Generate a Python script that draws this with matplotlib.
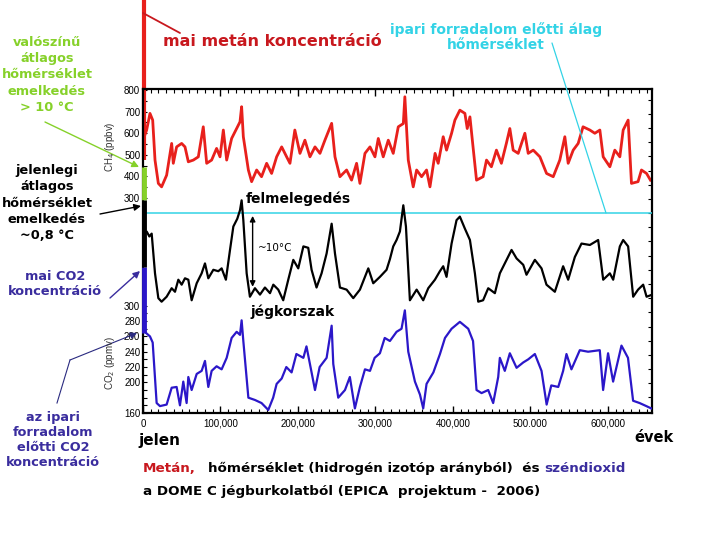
import numpy as np
import matplotlib
matplotlib.use("Agg")
import matplotlib.pyplot as plt
from matplotlib.patches import FancyArrowPatch

# EPICA Dome C records (ages in thousand years before present)
ch4_kyr = np.array([0, 4.7, 9, 12.5, 15.5, 19.8, 24, 30.5, 37, 39.1,
                    43.4, 49.9, 54.2, 58.5, 65, 71.4, 77.8, 82.2, 88.6, 95,
                    99.4, 103.7, 108, 114.4, 121, 125.2, 127.3, 129.5, 136, 140.2,
                    146.7, 153, 159.6, 166, 172.5, 179, 185.4, 189.7, 196, 202.6,
                    209, 215.5, 222, 228.4, 234.8, 243.5, 247.8, 254.2, 262.8, 269.2,
                    275.7, 280, 286.5, 293, 299.4, 303.7, 310.1, 316.6, 323, 329.5,
                    336, 338, 342.4, 348.8, 353.2, 359.6, 366, 370.4, 377, 381,
                    387.5, 391.8, 398.3, 402.6, 409, 415.5, 418.5, 422, 426, 430.5,
                    439, 443.4, 449.7, 456.2, 462.6, 469, 473.5, 477.8, 484.3, 492.9,
                    497.2, 503.7, 512.3, 520.9, 529.5, 538, 544.5, 548.8, 555.3, 561.7,
                    568, 576.8, 583.2, 589.7, 594, 602.6, 609, 615.5, 619.8, 626.2,
                    630.5, 639, 643.4, 650, 655])
ch4_ppbv = np.array([568, 615, 692, 661, 476, 368, 352, 406, 553, 461,
                     537, 553, 537, 468, 476, 491, 630, 461, 476, 530,
                     491, 615, 476, 576, 623, 653, 723, 584, 430, 376,
                     430, 399, 461, 414, 491, 537, 491, 461, 615, 507,
                     568, 491, 537, 507, 568, 646, 491, 399, 430, 383,
                     461, 368, 507, 537, 491, 576, 491, 568, 507, 630,
                     645, 769, 476, 352, 430, 399, 430, 352, 507, 461,
                     584, 522, 600, 661, 707, 692, 622, 676, 537, 383,
                     399, 476, 445, 522, 461, 553, 622, 522, 507, 600,
                     507, 522, 491, 414, 399, 476, 584, 461, 522, 553,
                     630, 615, 600, 615, 491, 445, 522, 491, 615, 661,
                     368, 376, 430, 414, 383])

temp_kyr = np.array([0, 1.3, 4.7, 8.2, 11.2, 15.5, 19.8, 24, 30.5, 37,
                     41.3, 45.6, 49.9, 54.2, 58.5, 62.8, 69.3, 75.7, 80, 84.3,
                     90.8, 97.2, 101.5, 107, 112.3, 116.6, 121.7, 125.2, 127.3, 129.5,
                     133.8, 138, 144.5, 151, 157.4, 163.9, 168.2, 174.6, 181, 187.5,
                     194, 200.4, 207, 213.3, 217.6, 224, 230.5, 237, 243.5, 247.8,
                     254.2, 262.8, 271.4, 280, 290.8, 297.2, 305.8, 314.4, 318.7, 323,
                     327.3, 331.6, 336, 339.4, 344.5, 353.2, 361.7, 368.2, 376.8, 383.2,
                     387.5, 391.8, 398.3, 404.7, 409, 415.5, 422, 428.4, 432.7, 439,
                     445.6, 454.2, 460.6, 467, 475.7, 482.2, 490.8, 495, 505.8, 514.4,
                     520.8, 531.6, 542.3, 548.8, 557.4, 566, 576.8, 587.5, 594, 602.6,
                     606.9, 615.5, 619.8, 626.2, 632.7, 639, 645.6, 650, 655])
temp_dc = np.array([-3.0, -2.9, -2.6, -3.3, -2.9, -8.5, -12.0, -12.5, -11.8, -10.6,
                    -11.1, -9.4, -10.1, -9.2, -9.4, -12.3, -9.9, -8.5, -7.1, -9.2,
                    -8.0, -8.2, -7.8, -9.4, -5.2, -1.9, -0.8, 0.4, 1.8, -1.0,
                    -8.5, -11.8, -10.6, -11.5, -10.5, -11.3, -10.1, -10.8, -12.3, -9.4,
                    -6.6, -7.8, -4.7, -4.9, -8.0, -10.5, -8.5, -5.7, -1.5, -5.7,
                    -10.5, -10.8, -12.0, -10.8, -7.8, -9.9, -9.0, -8.0, -6.5, -4.7,
                    -3.8, -2.6, 1.1, -1.9, -12.3, -10.8, -12.3, -10.6, -9.4, -8.2,
                    -7.5, -9.0, -4.3, -1.0, -0.5, -2.2, -3.8, -8.5, -12.5, -12.3,
                    -10.6, -11.3, -8.5, -7.1, -5.2, -6.4, -7.3, -8.7, -6.6, -7.8,
                    -10.1, -11.1, -7.5, -9.4, -6.2, -4.3, -4.5, -3.8, -9.4, -8.5,
                    -9.4, -4.7, -3.8, -4.7, -11.8, -10.8, -10.1, -11.8, -11.6])

co2_kyr = np.array([0, 9, 12.5, 17.6, 21.9, 30.5, 37, 43.4, 47.7, 52,
                    56.3, 58.5, 62.8, 69.3, 75.7, 80, 84.3, 88.6, 95, 101.5,
                    108, 114.4, 120.9, 125.2, 127.3, 129.5, 136, 144.5, 153, 161.7,
                    168, 172.5, 179, 185, 191.8, 198, 207, 211, 217.6, 222,
                    228, 237, 243.5, 245.6, 252, 260.7, 267, 273.5, 280, 286.5,
                    293, 299, 305.8, 312, 318.7, 327.3, 333.7, 338, 342.4, 351,
                    357.5, 361.7, 366, 374.8, 383.3, 389.8, 398.3, 409, 419.8, 426,
                    430.5, 437, 445.6, 452, 458.5, 460.6, 467, 473.5, 482.2, 490.8,
                    497.2, 505.8, 514.4, 521, 527, 536, 542.3, 546.6, 553, 563.8,
                    574.5, 589.6, 593.9, 600.3, 606.8, 617.6, 626, 632.6, 641, 649.7, 656])
co2_ppmv = np.array([268, 260, 252, 173, 169, 171, 193, 194, 170, 201,
                     173, 207, 190, 211, 215, 228, 194, 215, 221, 217,
                     232, 258, 266, 262, 281, 254, 180, 177, 173, 164,
                     180, 198, 205, 220, 213, 237, 232, 247, 213, 190,
                     220, 232, 274, 224, 180, 190, 207, 166, 194, 217,
                     215, 232, 238, 258, 254, 266, 270, 294, 240, 201,
                     184, 166, 198, 213, 237, 258, 270, 279, 270, 254,
                     190, 186, 190, 173, 207, 232, 215, 238, 219, 226,
                     230, 237, 215, 171, 196, 194, 215, 237, 217, 242,
                     240, 242, 190, 238, 201, 248, 232, 176, 173, 169, 166])

# present-day bars drawn at the left edge
ch4_bar = [476, 1780]
warm_likely = [1.8, 6.5]
warm_now = [-7.6, 1.8]
co2_bar = [265, 351]

x_ticks = [0, 100000, 200000, 300000, 400000, 500000, 600000]
x_labels = ["0", "100,000", "200,000", "300,000", "400,000", "500.000", "600,000"]
ch4_ticks = [300, 400, 500, 600, 700, 800]
co2_ticks = [160, 200, 220, 240, 260, 280, 300]

RED = "#e8201c"
BLUE = "#2b17c9"
CYAN = "#33d3e6"
GREEN = "#86d12a"
NAVY = "#3a2d9e"
DARKRED = "#c8181e"

W, H = 720, 540
def fp(x, y):
    return x / W, 1 - y / H

fig = plt.figure(figsize=(7.2, 5.4), dpi=100)
rect = [143 / W, 1 - 413 / H, 509 / W, 324 / H]
ax = fig.add_axes(rect)
ax_co2 = fig.add_axes(rect)
ax_t = fig.add_axes(rect)
for a in (ax_co2, ax_t):
    a.patch.set_visible(False)
    for s in a.spines.values():
        s.set_visible(False)
    a.xaxis.set_visible(False)
    a.set_xlim(0, 657000)

tickfont = "Liberation Sans"

# methane axis carries the frame and the time axis
ax.set_xlim(0, 657000)
ax.set_ylim(-695, 805)
for s in ax.spines.values():
    s.set_linewidth(1.6)
ax.set_xticks(x_ticks)
ax.set_xticklabels(x_labels, fontfamily=tickfont, fontsize=7)
ax.set_xticks(np.arange(0, 657000, 10000), minor=True)
ax.set_yticks(ch4_ticks)
ax.set_yticklabels([str(v) for v in ch4_ticks], fontfamily=tickfont, fontsize=7)
ax.set_yticks(np.arange(350, 800, 100), minor=True)
ax.tick_params(axis="x", which="major", direction="in", length=5, width=1, top=True, pad=4)
ax.tick_params(axis="x", which="minor", direction="in", length=3, width=0.8, top=True)
ax.tick_params(axis="y", which="both", direction="in", length=3, width=0.8, pad=2)
ax.plot(ch4_kyr * 1000, ch4_ppbv, color=RED, lw=2.0)
ax.plot([1500, 1500], ch4_bar, color=RED, lw=3, clip_on=False, solid_capstyle="butt")

ax_co2.set_ylim(160, 583)
ax_co2.set_yticks(co2_ticks)
ax_co2.set_yticklabels([str(v) for v in co2_ticks], fontfamily=tickfont, fontsize=7)
ax_co2.set_yticks(np.arange(170, 300, 10), minor=True)
ax_co2.tick_params(axis="y", which="both", direction="in", length=3, width=0.8, pad=2)
ax_co2.plot(co2_kyr * 1000, co2_ppmv, color=BLUE, lw=1.6)
ax_co2.plot([1500, 1500], co2_bar, color=BLUE, lw=3.5, clip_on=False, solid_capstyle="butt")

ax_t.set_ylim(-28.2, 17.5)
ax_t.yaxis.tick_right()
ax_t.set_yticks(np.arange(-26, 17, 2))
ax_t.set_yticklabels([])
ax_t.tick_params(axis="y", direction="in", length=3, width=0.8)
ax_t.axhline(0, color=CYAN, lw=1.1)
ax_t.plot(temp_kyr * 1000, temp_dc, color="black", lw=1.6)
ax_t.plot([1500, 1500], warm_likely, color=GREEN, lw=3.5, clip_on=False, solid_capstyle="butt")
ax_t.plot([1500, 1500], warm_now, color="black", lw=3.5, clip_on=False, solid_capstyle="butt")
ax_t.annotate("", xy=(141500, -10.4), xytext=(141500, -0.4),
              arrowprops=dict(arrowstyle="<|-|>", color="black", lw=1, mutation_scale=8,
                              shrinkA=0, shrinkB=0))
ax_t.text(148000, -4.9, "~10°C", fontsize=7.5, va="center", ha="left")

fig.text(*fp(110, 147), "CH$_4$ (ppbv)", rotation=90, ha="center", va="center",
         fontsize=7, color="#333333", fontfamily=tickfont)
fig.text(*fp(110, 363), "CO$_2$ (ppmv)", rotation=90, ha="center", va="center",
         fontsize=7, color="#333333", fontfamily=tickfont)

side = dict(fontsize=9.3, fontweight="bold", fontfamily="DejaVu Sans")
big = dict(fontsize=10, fontweight="bold", fontfamily="DejaVu Sans")
cap = dict(fontsize=9.7, fontweight="bold", fontfamily="DejaVu Sans")

fig.text(*fp(47, 75), "valószínű\nátlagos\nhőmérséklet\nemelkedés\n> 10 °C", color=GREEN,
         ha="center", va="center", linespacing=1.33, **side)
fig.text(*fp(47, 203), "jelenlegi\nátlagos\nhőmérséklet\nemelkedés\n~0,8 °C", color="black",
         ha="center", va="center", linespacing=1.33, **side)
fig.text(*fp(55, 284), "mai CO2\nkoncentráció", color=NAVY,
         ha="center", va="center", linespacing=1.2, **side)
fig.text(*fp(53, 440), "az ipari\nforradalom\nelőtti CO2\nkoncentráció", color=NAVY,
         ha="center", va="center", linespacing=1.22, **side)
fig.text(*fp(163, 42), "mai metán koncentráció", color=DARKRED, ha="left", va="center",
         fontsize=11.5, fontweight="bold")
fig.text(*fp(496, 37), "ipari forradalom előtti álag\nhőmérséklet", color=CYAN,
         ha="center", va="center", linespacing=1.1, **big)
fig.text(*fp(246, 199), "felmelegedés", ha="left", va="center", **big)
fig.text(*fp(250, 312), "jégkorszak", ha="left", va="center", **big)
fig.text(*fp(138, 440), "jelen", ha="left", va="center", fontsize=11, fontweight="bold")
fig.text(*fp(634, 438), "évek", ha="left", va="center", fontsize=10.5, fontweight="bold")
fig.text(*fp(143, 468), "Metán,", color=DARKRED, ha="left", va="center", **cap)
fig.text(*fp(208, 468), "hőmérséklet (hidrogén izotóp arányból)  és", ha="left", va="center", **cap)
fig.text(*fp(544, 468), "széndioxid", color=NAVY, ha="left", va="center", **cap)
fig.text(*fp(143, 492), "a DOME C jégburkolatból (EPICA  projektum -  2006)", ha="left", va="center", **cap)

def pointer(x0, y0, x1, y1, color, head=True, lw=1.0):
    style = "-|>" if head else "-"
    fig.add_artist(FancyArrowPatch(
        fp(x0, y0), fp(x1, y1), transform=fig.transFigure, arrowstyle=style,
        mutation_scale=10, color=color, lw=lw, shrinkA=0, shrinkB=0))

pointer(180, 33, 143, 13, DARKRED, head=False, lw=1.3)
pointer(45, 122, 139, 167, GREEN)
pointer(100, 214, 141, 206, "black")
pointer(110, 298, 140, 271, NAVY)
fig.add_artist(plt.Line2D([57 / W, 70 / W], [1 - 403 / H, 1 - 360 / H],
                          transform=fig.transFigure, color="#2a2a80", lw=0.8))
pointer(70, 360, 137, 333, "#2a2a80", lw=0.8)
pointer(552, 43, 606, 213, CYAN, head=False, lw=0.9)

fig.savefig("out.png", dpi=100)
